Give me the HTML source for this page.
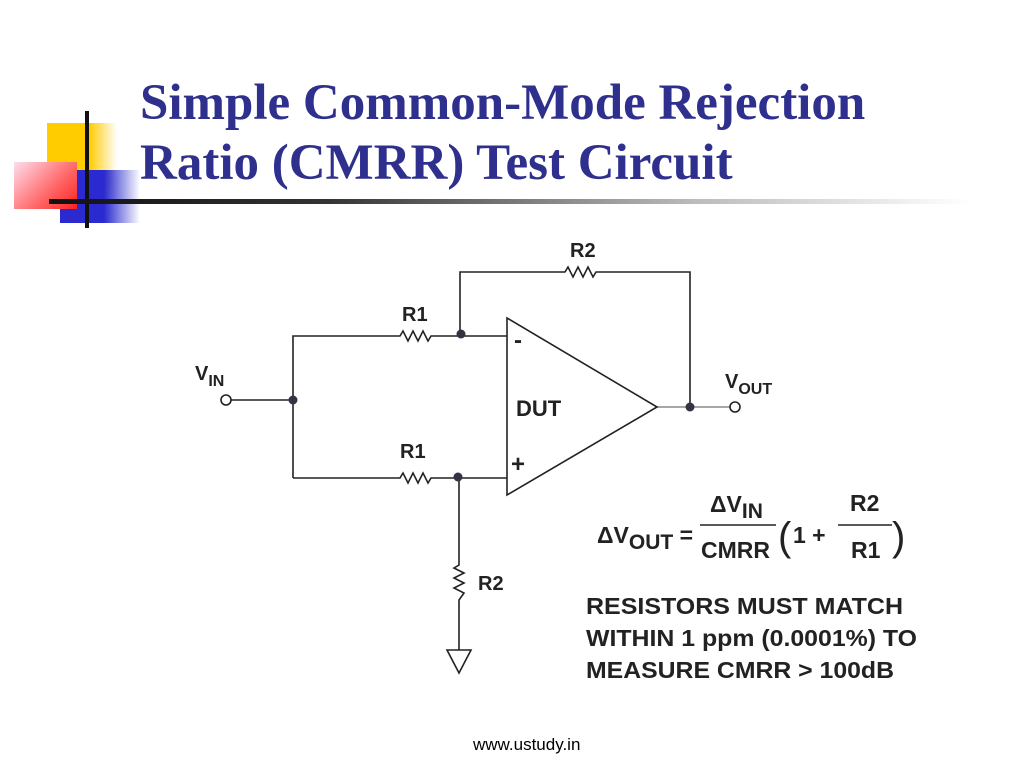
<!DOCTYPE html>
<html><head><meta charset="utf-8"><style>
body{margin:0;width:1024px;height:768px;background:#fff;position:relative;overflow:hidden}
.t{position:absolute;left:140px;font-family:"Liberation Serif",serif;font-weight:bold;font-size:51px;color:#2f2f8e;line-height:60px;white-space:nowrap}
</style></head><body>
<div style="position:absolute;left:47px;top:123px;width:70px;height:65px;background:linear-gradient(90deg,#ffcc00 60%,rgba(255,220,80,0))"></div>
<div style="position:absolute;left:60px;top:170px;width:80px;height:53px;background:linear-gradient(90deg,#2a2ad0 55%,rgba(60,60,220,0))"></div>
<div style="position:absolute;left:14px;top:162px;width:63px;height:47px;background:linear-gradient(135deg,#fde 0%,#f66 60%,#f22 100%)"></div>
<div style="position:absolute;left:85px;top:111px;width:4px;height:117px;background:#111"></div>
<div style="position:absolute;left:49px;top:199px;width:920px;height:5px;background:linear-gradient(90deg,#111 0%,#333 30%,#bbb 70%,#fff 100%)"></div>
<div class="t" style="top:73px">Simple Common-Mode Rejection</div>
<div class="t" style="top:133px">Ratio (CMRR) Test Circuit</div>
<svg width="1024" height="768" style="position:absolute;left:0;top:0" font-family="Liberation Sans,Arial,sans-serif" font-weight="bold" fill="#222">
<g stroke="#222" stroke-width="1.6" fill="none">
<polyline points="231,400 293,400"/>
<polyline points="293,478 293,336 400,336 403,331 408,341 413,331 418,341 423,331 428,341 431,336 507,336"/>
<polyline points="293,478 400,478 403,473 408,483 413,473 418,483 423,473 428,483 431,478 507,478"/>
<polyline points="460,336 460,272 565,272 568,267 573,277 578,267 583,277 588,267 593,277 596,272 690,272 690,407"/>
<polyline points="657,407 730,407" stroke="#888"/>
<polygon points="507,318 507,495 657,407"/>
<polyline points="459,478 459,565 454,568 464,573 454,578 464,583 454,588 464,593 459,600 459,650"/>
<polygon points="447,650 471,650 459,673"/>
<circle cx="226" cy="400" r="5" fill="#fff"/>
<circle cx="735" cy="407" r="5" fill="#fff"/>
</g>
<g fill="#334">
<circle cx="293" cy="400" r="4.5"/><circle cx="461" cy="334" r="4.5"/><circle cx="458" cy="477" r="4.5"/><circle cx="690" cy="407" r="4.5"/>
</g>
<g font-size="20">
<text x="570" y="257">R2</text>
<text x="402" y="321">R1</text>
<text x="400" y="458">R1</text>
<text x="478" y="590">R2</text>
<text x="195" y="380">V<tspan font-size="16" dy="6">IN</tspan></text>
<text x="725" y="388">V<tspan font-size="16" dy="6">OUT</tspan></text>
<text x="516" y="416" font-size="22">DUT</text>
<text x="514" y="348" font-size="24">-</text>
<text x="511" y="472" font-size="24">+</text>
</g>
<g font-size="23">
<text x="597" y="543">ΔV<tspan font-size="21" dy="6">OUT</tspan><tspan dy="-6"> =</tspan></text>
<text x="710" y="512">ΔV<tspan font-size="21" dy="6">IN</tspan></text>
<line x1="700" y1="525" x2="776" y2="525" stroke="#222" stroke-width="1.5"/>
<text x="701" y="558">CMRR</text>
<text x="778" y="550" font-size="40" font-weight="normal">(</text>
<text x="793" y="543">1 +</text>
<line x1="838" y1="525" x2="892" y2="525" stroke="#222" stroke-width="1.5"/>
<text x="850" y="511">R2</text>
<text x="851" y="558">R1</text>
<text x="892" y="550" font-size="40" font-weight="normal">)</text>
</g>
<g font-size="23">
<text x="586" y="614" textLength="317" lengthAdjust="spacingAndGlyphs">RESISTORS MUST MATCH</text>
<text x="586" y="646" textLength="331" lengthAdjust="spacingAndGlyphs">WITHIN 1 ppm (0.0001%) TO</text>
<text x="586" y="678" textLength="308" lengthAdjust="spacingAndGlyphs">MEASURE CMRR &gt; 100dB</text>
</g>
<text x="473" y="750" font-size="17" font-weight="normal" fill="#000">www.ustudy.in</text>
</svg>
</body></html>
